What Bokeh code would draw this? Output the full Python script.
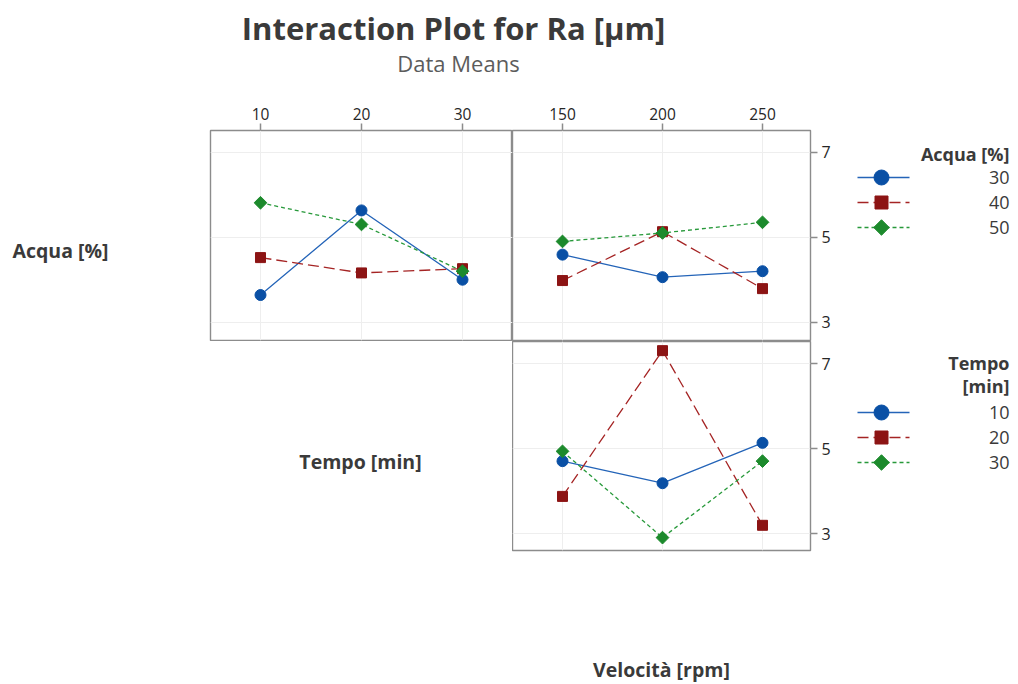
import math
from bokeh.plotting import figure
from bokeh.models import Range1d, LinearAxis, FixedTicker, Grid
from bokeh.layouts import column, row
from bokeh.embed import file_html
from bokeh.resources import INLINE
from bokeh.core.properties import value

# ---------------- data ----------------
tempo_levels = [10, 20, 30]
velocita_levels = [150, 200, 250]
acqua_labels = ["30", "40", "50"]
tempo_labels = ["10", "20", "30"]
y_ticks = [3, 5, 7]

# Ra means vs Tempo, one series per Acqua level
ra_tempo_acqua30 = [3.64, 5.63, 4.00]
ra_tempo_acqua40 = [4.52, 4.16, 4.26]
ra_tempo_acqua50 = [5.81, 5.30, 4.20]
# Ra means vs Velocità, one series per Acqua level
ra_vel_acqua30 = [4.59, 4.06, 4.20]
ra_vel_acqua40 = [3.98, 5.13, 3.79]
ra_vel_acqua50 = [4.90, 5.10, 5.35]
# Ra means vs Velocità, one series per Tempo level
ra_vel_tempo10 = [4.71, 4.19, 5.14]
ra_vel_tempo20 = [3.88, 7.31, 3.20]
ra_vel_tempo30 = [4.94, 2.91, 4.71]

# ---------------- styles ----------------
FONT = "Open Sans"
TXT = "#3a3a3a"
TICKTXT = "#262626"
FRAME = "#8c8c8c"
GRIDC = "#eeeeee"
STYLES = [
    dict(line="#2464b8", fill="#0a50a5", marker="circle", size=11, lsize=15, angle=0.0, dash="solid"),
    dict(line="#a52424", fill="#8c1414", marker="square", size=10, lsize=13, angle=0.0, dash="11 5"),
    dict(line="#27993a", fill="#1c8a2c", marker="square", size=9, lsize=11, angle=math.pi / 4, dash="4 3"),
]


def text_fig(w, h, bl=0, br=0, bt=0, bb=0):
    # data coordinates == canvas pixel coordinates (y downwards)
    p = figure(width=w, height=h, x_range=Range1d(bl, w - br), y_range=Range1d(h - bb, bt),
               x_axis_type=None, y_axis_type=None, toolbar_location=None,
               output_backend="svg", min_border_left=bl, min_border_right=br,
               min_border_top=bt, min_border_bottom=bb)
    p.outline_line_color = None
    return p


def add_text(p, x, y, s, size, bold=False, align="center", color=TXT):
    p.text(x=[x], y=[y], text=[s], text_align=align, text_baseline="middle",
           text_font=value(FONT), text_font_size=size,
           text_font_style="bold" if bold else "normal", text_color=color)


def style_axis(ax, fs):
    ax.axis_line_color = None
    ax.major_tick_line_color = FRAME
    ax.major_tick_line_width = 1.5
    ax.major_tick_out = 7
    ax.major_tick_in = 0
    ax.minor_tick_line_color = None
    ax.major_label_text_font = FONT
    ax.major_label_text_font_size = f"{fs}px"
    ax.major_label_text_color = TICKTXT
    ax.major_label_standoff = 4


def panel(w, h, xr, yr, bl, br, bt, bb, xticks, top_axis, right_axis):
    p = figure(width=w, height=h, x_range=Range1d(*xr), y_range=Range1d(*yr),
               x_axis_type=None, y_axis_type=None, toolbar_location=None,
               output_backend="svg", min_border_left=bl, min_border_right=br,
               min_border_top=bt, min_border_bottom=bb)
    p.outline_line_color = FRAME
    p.outline_line_width = 1.4
    p.add_layout(Grid(dimension=0, ticker=FixedTicker(ticks=xticks),
                      grid_line_color=GRIDC, grid_line_width=1))
    p.add_layout(Grid(dimension=1, ticker=FixedTicker(ticks=y_ticks),
                      grid_line_color=GRIDC, grid_line_width=1))
    if top_axis:
        ax = LinearAxis(ticker=FixedTicker(ticks=xticks))
        style_axis(ax, 15.5)
        p.add_layout(ax, "above")
    if right_axis:
        ay = LinearAxis(ticker=FixedTicker(ticks=y_ticks))
        style_axis(ay, 16)
        p.add_layout(ay, "right")
    return p


def draw_series(p, xs, series):
    for ys, st in zip(series, STYLES):
        p.line(xs, ys, line_color=st["line"], line_width=1.3, line_dash=st["dash"])
        p.scatter(xs, ys, marker=st["marker"], size=st["size"], angle=st["angle"],
                  fill_color=st["fill"], line_color=st["fill"])


def legend_fig(w, h, title_lines, labels, y0, title_y0, bt=0, bb=0):
    p = text_fig(w, h, bt=bt, bb=bb)
    for i, t in enumerate(title_lines):
        add_text(p, w - 1, title_y0 + 23 * i, t, "18px", bold=True, align="right")
    for i, (lab, st) in enumerate(zip(labels, STYLES)):
        y = y0 + 25 * i
        p.line([12, 64], [y, y], line_color=st["line"], line_width=1.5, line_dash=st["dash"])
        p.scatter([36], [y], marker=st["marker"], size=st["lsize"], angle=st["angle"],
                  fill_color=st["fill"], line_color=st["fill"])
        add_text(p, w - 1, y, lab, "18px", align="right")
    return p


# ---------------- header ----------------
header = text_fig(1010, 90)
add_text(header, 453, 27, "Interaction Plot for Ra [µm]", "31px", bold=True)
add_text(header, 458, 62, "Data Means", "22px", color="#5c5c5c")

# ---------------- row 2 (y 90..341) ----------------
lab_a = text_fig(209, 251, bt=40, bb=1)
add_text(lab_a, 60, 160, "Acqua [%]", "19.5px", bold=True)

pA = panel(303, 251, (5.05, 34.95), (2.57, 7.51), 1, 0, 40, 1, tempo_levels, True, False)
draw_series(pA, tempo_levels, [ra_tempo_acqua30, ra_tempo_acqua40, ra_tempo_acqua50])

pB = panel(333, 251, (125, 274), (2.57, 7.51), 0, 35, 40, 1, velocita_levels, True, True)
draw_series(pB, velocita_levels, [ra_vel_acqua30, ra_vel_acqua40, ra_vel_acqua50])

leg1 = legend_fig(165, 251, ["Acqua [%]"], acqua_labels, 87, 63, bt=40, bb=1)

# ---------------- row 3 (y 341..682) ----------------
lab_t = text_fig(512, 341)
add_text(lab_t, 360, 120, "Tempo [min]", "19.5px", bold=True)

pC = panel(333, 211, (125, 274), (2.607, 7.525), 0, 35, 0, 2, velocita_levels, False, True)
draw_series(pC, velocita_levels, [ra_vel_tempo10, ra_vel_tempo20, ra_vel_tempo30])

lab_v = text_fig(333, 130, br=35)
add_text(lab_v, 149, 117, "Velocità [rpm]", "19.5px", bold=True)

leg2 = legend_fig(165, 341, ["Tempo", "[min]"], tempo_labels, 71, 21)

layout = column(
    header,
    row(lab_a, pA, pB, leg1),
    row(lab_t, column(pC, lab_v), leg2),
)

open("out.html", "w").write(file_html(layout, INLINE))
